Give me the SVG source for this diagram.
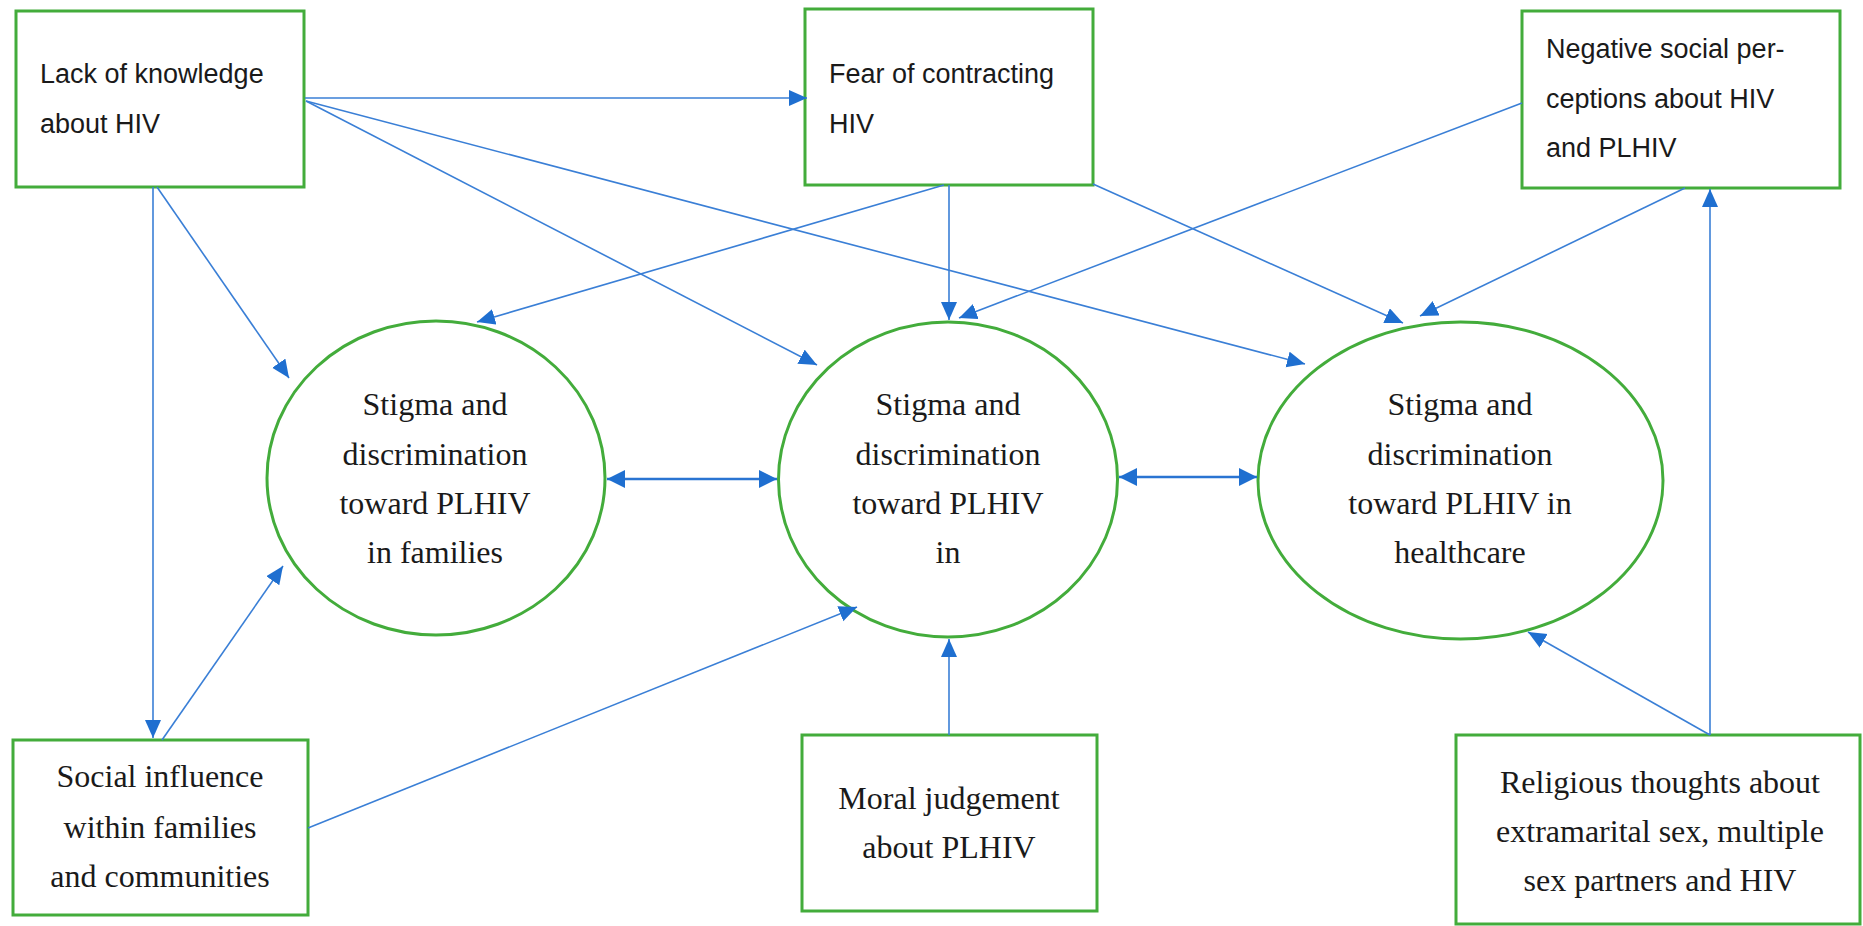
<svg xmlns="http://www.w3.org/2000/svg" width="1863" height="926" viewBox="0 0 1863 926">
<style>
.box{fill:#ffffff;stroke:#43AC3B;stroke-width:3}
.ell{fill:#ffffff;stroke:#43AC3B;stroke-width:3}
.sans{font-family:"Liberation Sans",Arial,sans-serif;font-size:27px;fill:#1a1a1a}
.serif{font-family:"Liberation Serif","Times New Roman",serif;font-size:32px;fill:#1a1a1a;text-anchor:middle}
.con{stroke:#3A7FD6;stroke-width:1.6;fill:none;marker-end:url(#ah)}
.dbl{stroke:#2A74D2;stroke-width:2.6;fill:none;marker-end:url(#ah2);marker-start:url(#ah2)}
</style>
<defs>
<marker id="ah" markerUnits="userSpaceOnUse" markerWidth="20" markerHeight="18" refX="18" refY="8" orient="auto">
<path d="M0,0 L18,8 L0,16 z" fill="#1F6FD0"/>
</marker>
<marker id="ah2" markerUnits="userSpaceOnUse" markerWidth="20" markerHeight="20" refX="18" refY="9" orient="auto-start-reverse">
<path d="M0,0 L18,9 L0,18 z" fill="#1F6FD0"/>
</marker>
</defs>
<rect width="1863" height="926" fill="#ffffff"/>

<g id="box-lack">
<rect class="box" x="16" y="11" width="288" height="176"/>
<text class="sans" x="40" y="83">Lack of knowledge</text>
<text class="sans" x="40" y="133">about HIV</text>
</g>
<g id="box-fear">
<rect class="box" x="805" y="9" width="288" height="176"/>
<text class="sans" x="829" y="83">Fear of contracting</text>
<text class="sans" x="829" y="133">HIV</text>
</g>
<g id="box-negative">
<rect class="box" x="1522" y="11" width="318" height="177"/>
<text class="sans" x="1546" y="58">Negative social per-</text>
<text class="sans" x="1546" y="108">ceptions about HIV</text>
<text class="sans" x="1546" y="157">and PLHIV</text>
</g>
<g id="box-social">
<rect class="box" x="13" y="740" width="295" height="175"/>
<text class="serif" x="160" y="787">Social influence</text>
<text class="serif" x="160" y="838">within families</text>
<text class="serif" x="160" y="887">and communities</text>
</g>
<g id="box-moral">
<rect class="box" x="802" y="735" width="295" height="176"/>
<text class="serif" x="949" y="809">Moral judgement</text>
<text class="serif" x="949" y="858">about PLHIV</text>
</g>
<g id="box-religious">
<rect class="box" x="1456" y="735" width="404" height="189"/>
<text class="serif" x="1660" y="793">Religious thoughts about</text>
<text class="serif" x="1660" y="842">extramarital sex, multiple</text>
<text class="serif" x="1660" y="891">sex partners and HIV</text>
</g>

<g id="ell-families">
<ellipse class="ell" cx="436" cy="478" rx="169" ry="157"/>
<text class="serif" x="435" y="415">Stigma and</text>
<text class="serif" x="435" y="465">discrimination</text>
<text class="serif" x="435" y="514">toward PLHIV</text>
<text class="serif" x="435" y="563">in families</text>
</g>
<g id="ell-middle">
<ellipse class="ell" cx="948" cy="479.5" rx="169.5" ry="157.5"/>
<text class="serif" x="948" y="415">Stigma and</text>
<text class="serif" x="948" y="465">discrimination</text>
<text class="serif" x="948" y="514">toward PLHIV</text>
<text class="serif" x="948" y="563">in</text>
</g>
<g id="ell-healthcare">
<ellipse class="ell" cx="1460.5" cy="480.5" rx="202.5" ry="158.5"/>
<text class="serif" x="1460" y="415">Stigma and</text>
<text class="serif" x="1460" y="465">discrimination</text>
<text class="serif" x="1460" y="514">toward PLHIV in</text>
<text class="serif" x="1460" y="563">healthcare</text>
</g>

<g id="connectors">
<line class="con" x1="305" y1="98" x2="807" y2="98"/>
<line class="con" x1="306" y1="101" x2="817" y2="365"/>
<line class="con" x1="306" y1="101" x2="1305" y2="364"/>
<line class="con" x1="157" y1="187" x2="289" y2="378"/>
<line class="con" x1="153" y1="187" x2="153" y2="738"/>
<line class="con" x1="162" y1="740" x2="283" y2="566"/>
<line class="con" x1="308" y1="828" x2="857" y2="607"/>
<line class="con" x1="944" y1="185" x2="477" y2="322"/>
<line class="con" x1="949" y1="185" x2="949" y2="320"/>
<line class="con" x1="1093" y1="184" x2="1403" y2="323"/>
<line class="con" x1="1522" y1="103" x2="959" y2="318"/>
<line class="con" x1="1685" y1="188" x2="1420" y2="316"/>
<line class="con" x1="1710" y1="735" x2="1710" y2="189"/>
<line class="con" x1="1710" y1="735" x2="1528" y2="632"/>
<line class="con" x1="949" y1="735" x2="949" y2="639"/>
<line class="dbl" x1="607" y1="479" x2="777" y2="479"/>
<line class="dbl" x1="1119" y1="477" x2="1257" y2="477"/>
</g>
</svg>
